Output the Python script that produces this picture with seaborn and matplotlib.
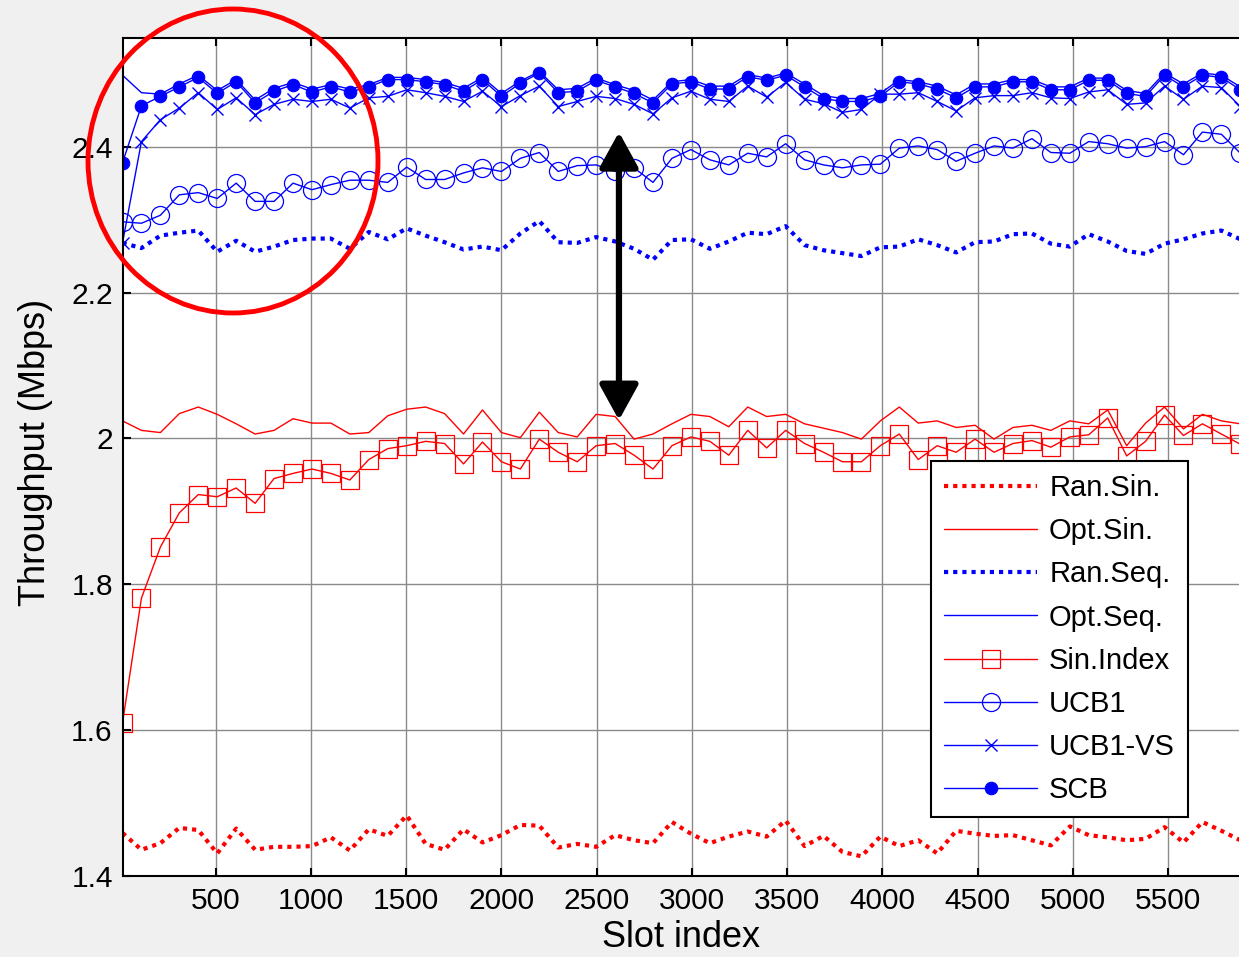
import numpy as np
import seaborn as sns
import matplotlib
matplotlib.use("Agg")
import matplotlib.pyplot as plt
from matplotlib.patches import Ellipse

# slot index of each sample (one point every ~100 slots)
slots = np.linspace(10, 5880, 60)

ran_sin = [1.459, 1.436, 1.445, 1.466, 1.463, 1.431, 1.465, 1.436, 1.440, 1.440,
           1.441, 1.453, 1.435, 1.464, 1.455, 1.483, 1.444, 1.436, 1.464, 1.446,
           1.456, 1.470, 1.469, 1.439, 1.444, 1.440, 1.456, 1.449, 1.445, 1.474,
           1.458, 1.445, 1.454, 1.461, 1.454, 1.476, 1.441, 1.455, 1.433, 1.427,
           1.454, 1.441, 1.449, 1.431, 1.462, 1.458, 1.455, 1.456, 1.449, 1.442,
           1.468, 1.456, 1.453, 1.449, 1.451, 1.467, 1.446, 1.474, 1.462, 1.449]

opt_sin = [2.024, 2.011, 2.008, 2.034, 2.043, 2.033, 2.020, 2.006, 2.011, 2.027,
           2.021, 2.021, 2.006, 2.008, 2.031, 2.040, 2.043, 2.034, 2.006, 2.039,
           2.008, 2.001, 2.036, 2.008, 2.002, 2.033, 2.030, 1.999, 2.006, 2.020,
           2.033, 2.030, 2.016, 2.043, 2.030, 2.033, 2.020, 2.014, 2.008, 1.999,
           2.024, 2.043, 2.021, 2.024, 2.015, 2.018, 1.999, 2.015, 2.018, 2.011,
           2.024, 2.020, 2.039, 1.990, 2.021, 2.043, 2.013, 2.033, 2.024, 2.020]

ran_seq = [2.268, 2.261, 2.278, 2.282, 2.285, 2.256, 2.271, 2.256, 2.263, 2.272,
           2.274, 2.274, 2.260, 2.283, 2.273, 2.288, 2.278, 2.269, 2.259, 2.263,
           2.258, 2.281, 2.298, 2.269, 2.268, 2.276, 2.270, 2.260, 2.245, 2.272,
           2.273, 2.260, 2.270, 2.282, 2.280, 2.291, 2.265, 2.258, 2.254, 2.250,
           2.262, 2.263, 2.273, 2.265, 2.255, 2.269, 2.270, 2.280, 2.281, 2.267,
           2.263, 2.280, 2.270, 2.257, 2.253, 2.267, 2.273, 2.281, 2.285, 2.273]

opt_seq = [2.498, 2.474, 2.472, 2.486, 2.498, 2.477, 2.492, 2.464, 2.480, 2.488,
           2.479, 2.485, 2.479, 2.485, 2.495, 2.495, 2.492, 2.488, 2.480, 2.495,
           2.473, 2.490, 2.503, 2.478, 2.480, 2.494, 2.485, 2.477, 2.464, 2.489,
           2.492, 2.483, 2.483, 2.499, 2.494, 2.501, 2.486, 2.470, 2.466, 2.466,
           2.473, 2.492, 2.489, 2.483, 2.471, 2.486, 2.486, 2.492, 2.492, 2.482,
           2.482, 2.494, 2.494, 2.477, 2.473, 2.501, 2.486, 2.501, 2.498, 2.482]

sin_index = [1.610, 1.781, 1.851, 1.898, 1.923, 1.920, 1.932, 1.911, 1.945, 1.952,
             1.958, 1.952, 1.943, 1.971, 1.986, 1.990, 1.996, 1.993, 1.965, 1.995,
             1.968, 1.958, 1.999, 1.981, 1.968, 1.990, 1.993, 1.977, 1.958, 1.990,
             2.002, 1.996, 1.977, 2.011, 1.987, 2.011, 1.993, 1.981, 1.968, 1.968,
             1.990, 2.006, 1.971, 1.990, 1.981, 1.999, 1.981, 1.993, 1.997, 1.988,
             2.002, 2.005, 2.028, 1.976, 1.996, 2.032, 2.004, 2.020, 2.006, 1.992]

ucb1 = [2.297, 2.295, 2.306, 2.334, 2.337, 2.329, 2.350, 2.325, 2.325, 2.350,
        2.341, 2.348, 2.354, 2.354, 2.351, 2.372, 2.355, 2.355, 2.364, 2.371,
        2.366, 2.384, 2.392, 2.366, 2.374, 2.375, 2.366, 2.371, 2.351, 2.384,
        2.396, 2.382, 2.375, 2.391, 2.386, 2.404, 2.382, 2.375, 2.371, 2.375,
        2.376, 2.398, 2.401, 2.396, 2.380, 2.391, 2.401, 2.398, 2.411, 2.392,
        2.391, 2.407, 2.404, 2.398, 2.400, 2.407, 2.389, 2.420, 2.417, 2.391]

ucb1_vs = [2.268, 2.407, 2.437, 2.453, 2.474, 2.451, 2.467, 2.444, 2.458, 2.465,
           2.462, 2.465, 2.453, 2.467, 2.469, 2.478, 2.474, 2.469, 2.462, 2.476,
           2.455, 2.470, 2.483, 2.455, 2.462, 2.469, 2.466, 2.458, 2.445, 2.467,
           2.476, 2.465, 2.462, 2.483, 2.468, 2.488, 2.465, 2.459, 2.447, 2.451,
           2.472, 2.472, 2.474, 2.462, 2.449, 2.467, 2.470, 2.470, 2.474, 2.467,
           2.466, 2.475, 2.478, 2.458, 2.460, 2.483, 2.465, 2.483, 2.481, 2.455]

scb = [2.378, 2.456, 2.469, 2.482, 2.495, 2.473, 2.489, 2.460, 2.476, 2.485,
       2.475, 2.482, 2.475, 2.482, 2.492, 2.492, 2.489, 2.485, 2.476, 2.492,
       2.469, 2.487, 2.501, 2.474, 2.476, 2.491, 2.482, 2.473, 2.460, 2.486,
       2.489, 2.479, 2.479, 2.496, 2.491, 2.498, 2.482, 2.466, 2.462, 2.462,
       2.469, 2.489, 2.486, 2.479, 2.467, 2.482, 2.482, 2.489, 2.489, 2.478,
       2.478, 2.491, 2.491, 2.473, 2.469, 2.498, 2.482, 2.498, 2.495, 2.478]

x_ticks = [500, 1000, 1500, 2000, 2500, 3000, 3500, 4000, 4500, 5000, 5500]
y_ticks = [1.4, 1.6, 1.8, 2.0, 2.2, 2.4]
y_ticklabels = ["1.4", "1.6", "1.8", "2", "2.2", "2.4"]

sns.set_theme(style="ticks")
plt.rcParams['font.family'] = ['Liberation Sans', 'DejaVu Sans']
plt.rcParams['text.color'] = 'black'
plt.rcParams['axes.labelcolor'] = 'black'
plt.rcParams['xtick.color'] = 'black'
plt.rcParams['ytick.color'] = 'black'

fig = plt.figure(figsize=(12.39, 9.57), dpi=100, facecolor='#f0f0f0')
ax = fig.add_axes([122.5 / 1239, 81 / 957, 1 - 122.5 / 1239, (876 - 38) / 957])
ax.set_facecolor('white')

dot = (0, (1, 1.2))
series = [
    ("Ran.Sin.", ran_sin, dict(color='red', lw=3, linestyle=dot)),
    ("Opt.Sin.", opt_sin, dict(color='red', lw=1)),
    ("Ran.Seq.", ran_seq, dict(color='blue', lw=3, linestyle=dot)),
    ("Opt.Seq.", opt_seq, dict(color='blue', lw=1)),
    ("Sin.Index", sin_index, dict(color='red', lw=1, marker='s', ms=13,
                                  mfc='none', mec='red', mew=0.9)),
    ("UCB1", ucb1, dict(color='blue', lw=1, marker='o', ms=13,
                        mfc='none', mec='blue', mew=0.9)),
    ("UCB1-VS", ucb1_vs, dict(color='blue', lw=1, marker='x', ms=8,
                              mec='blue', mew=1)),
    ("SCB", scb, dict(color='blue', lw=1, marker='o', ms=9,
                      mfc='blue', mec='blue', mew=0.8)),
]
for name, vals, kw in series:
    sns.lineplot(x=slots, y=vals, ax=ax, label=name, **kw)

ax.set_xlim(10, 5873)
ax.set_ylim(1.4, 2.549)
ax.set_xticks(x_ticks)
ax.set_xticklabels([str(t) for t in x_ticks])
ax.set_yticks(y_ticks)
ax.set_yticklabels(y_ticklabels)
ax.set_axisbelow(True)
ax.grid(True, color='#8a8a8a', lw=1)
ax.tick_params(axis='both', direction='in', length=6, width=1.5,
               top=True, right=False, labelsize=21.5)
ax.tick_params(axis='y', pad=7)
ax.tick_params(axis='x', pad=8)
for side in ['left', 'bottom', 'top']:
    ax.spines[side].set_color('black')
    ax.spines[side].set_linewidth(1.5)
ax.spines['right'].set_visible(False)

ax.set_xlabel('Slot index', fontsize=26)
ax.set_ylabel('Throughput (Mbps)', fontsize=26)
ax.xaxis.set_label_coords(0.5, -0.053)
ax.yaxis.set_label_coords(-0.062, 0.506)

leg = ax.legend(loc='upper left', bbox_to_anchor=(931 / 1239, 1 - 461 / 957),
                bbox_transform=fig.transFigure, fontsize=21, frameon=True,
                fancybox=False, edgecolor='black', framealpha=1,
                handlelength=3.2, handletextpad=0.4, labelspacing=0.52,
                borderpad=0.45, borderaxespad=0)
leg.get_frame().set_linewidth(1.5)

# double-headed arrow showing the gap
ax.annotate('', xy=(2617, 2.025), xytext=(2617, 2.420),
            arrowprops=dict(arrowstyle='<|-|>,head_length=0.4,head_width=0.22',
                            mutation_scale=54, lw=4.5, color='black',
                            shrinkA=0, shrinkB=0))

# red circle around the start-up region
circ = Ellipse((233 / 1239, 1 - 161 / 957), 290 / 1239, 304 / 957,
               transform=fig.transFigure, fill=False, ec='red', lw=3.5, zorder=10)
fig.add_artist(circ)

fig.savefig('out.png', dpi=100, facecolor=fig.get_facecolor())
